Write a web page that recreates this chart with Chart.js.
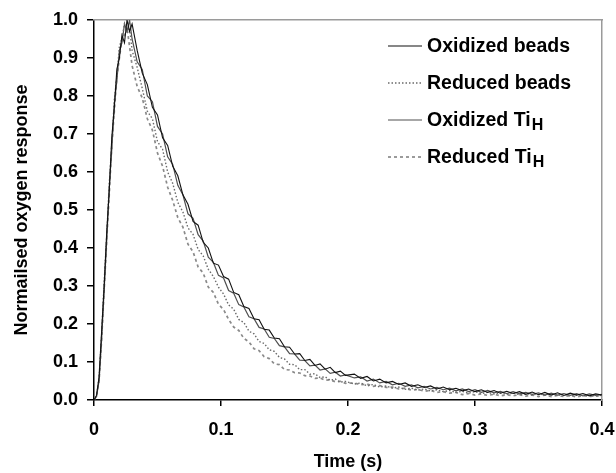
<!DOCTYPE html>
<html>
<head>
<meta charset="utf-8">
<script src="https://cdn.jsdelivr.net/npm/chart.js@4.4.1/dist/chart.umd.min.js"></script>
<style>
  html, body { margin: 0; padding: 0; background: #fff; }
  #wrap { width: 616px; height: 473px; }
</style>
</head>
<body>
<div id="wrap"><canvas id="oxygenChart" width="616" height="473"></canvas></div>
<script>
// time axis (s), shared by all four traces
const time = [
  0, 0.002, 0.004, 0.006, 0.008, 0.010, 0.012, 0.014, 0.016, 0.018, 0.020, 0.022, 0.024, 0.026, 0.028, 0.030,
  0.034, 0.038, 0.042, 0.046, 0.050, 0.054, 0.058, 0.062, 0.066, 0.070, 0.074, 0.078, 0.082, 0.086,
  0.090, 0.094, 0.098, 0.102, 0.106, 0.110, 0.114, 0.118, 0.122, 0.126, 0.130, 0.134, 0.138, 0.142,
  0.146, 0.150, 0.154, 0.158, 0.162, 0.166, 0.170, 0.174, 0.178, 0.182, 0.186, 0.190, 0.194, 0.198,
  0.205, 0.210, 0.215, 0.220, 0.225, 0.230, 0.235, 0.240, 0.245, 0.250, 0.255, 0.260, 0.265, 0.270,
  0.275, 0.280, 0.285, 0.290, 0.295, 0.300, 0.305, 0.310, 0.315, 0.320, 0.325, 0.330, 0.335, 0.340,
  0.345, 0.350, 0.355, 0.360, 0.365, 0.370, 0.375, 0.380, 0.385, 0.390, 0.395, 0.400
];

const oxidizedBeads = [
  0.00, 0.012, 0.06, 0.18, 0.30, 0.44, 0.55, 0.69, 0.77, 0.87, 0.90, 0.96, 0.94, 1.00, 0.97, 0.99,
  0.92, 0.86, 0.83, 0.77, 0.75, 0.69, 0.67, 0.615, 0.59, 0.54, 0.515, 0.47, 0.46, 0.415,
  0.40, 0.36, 0.355, 0.325, 0.318, 0.283, 0.277, 0.246, 0.241, 0.214, 0.211, 0.186, 0.184, 0.163,
  0.161, 0.140, 0.139, 0.121, 0.122, 0.104, 0.107, 0.091, 0.095, 0.081, 0.086, 0.072, 0.076, 0.065,
  0.068, 0.057, 0.062, 0.050, 0.055, 0.045, 0.049, 0.041, 0.045, 0.036, 0.040, 0.033, 0.037, 0.029,
  0.034, 0.027, 0.031, 0.024, 0.029, 0.022, 0.027, 0.020, 0.025, 0.018, 0.023, 0.017, 0.022, 0.015,
  0.021, 0.014, 0.020, 0.013, 0.019, 0.012, 0.018, 0.013, 0.017, 0.011, 0.016, 0.013
];

const reducedBeads = [
  0.00, 0.01, 0.06, 0.17, 0.31, 0.43, 0.57, 0.67, 0.79, 0.85, 0.93, 0.95, 0.99, 0.97, 0.98, 0.92,
  0.875, 0.82, 0.76, 0.74, 0.68, 0.66, 0.60, 0.57, 0.52, 0.495, 0.453, 0.436, 0.396, 0.379,
  0.344, 0.325, 0.297, 0.279, 0.250, 0.239, 0.212, 0.204, 0.181, 0.174, 0.154, 0.149, 0.132, 0.128,
  0.112, 0.108, 0.094, 0.093, 0.080, 0.080, 0.068, 0.069, 0.059, 0.061, 0.052, 0.055, 0.047, 0.049,
  0.042, 0.045, 0.037, 0.041, 0.034, 0.037, 0.031, 0.034, 0.028, 0.031, 0.026, 0.029, 0.024, 0.027,
  0.022, 0.025, 0.020, 0.023, 0.018, 0.022, 0.017, 0.020, 0.016, 0.019, 0.015, 0.018, 0.014, 0.017,
  0.013, 0.016, 0.013, 0.015, 0.012, 0.015, 0.011, 0.014, 0.012, 0.014, 0.010, 0.013
];

const oxidizedTiH = [
  0.00, 0.01, 0.05, 0.16, 0.29, 0.42, 0.56, 0.66, 0.78, 0.84, 0.92, 0.94, 0.99, 0.97, 1.00, 0.95,
  0.89, 0.87, 0.80, 0.785, 0.72, 0.70, 0.64, 0.62, 0.565, 0.54, 0.49, 0.478, 0.435, 0.418,
  0.376, 0.362, 0.328, 0.321, 0.288, 0.281, 0.251, 0.245, 0.219, 0.214, 0.191, 0.187, 0.165, 0.162,
  0.143, 0.140, 0.122, 0.121, 0.105, 0.104, 0.090, 0.092, 0.079, 0.082, 0.070, 0.073, 0.063, 0.066,
  0.058, 0.061, 0.050, 0.055, 0.045, 0.049, 0.040, 0.044, 0.036, 0.040, 0.032, 0.036, 0.029, 0.033,
  0.027, 0.031, 0.024, 0.029, 0.022, 0.027, 0.020, 0.025, 0.019, 0.023, 0.017, 0.022, 0.016, 0.020,
  0.015, 0.019, 0.013, 0.018, 0.013, 0.017, 0.012, 0.017, 0.011, 0.016, 0.012, 0.015
];

const reducedTiH = [
  0.00, 0.012, 0.05, 0.16, 0.29, 0.42, 0.54, 0.67, 0.76, 0.85, 0.90, 0.95, 0.96, 0.98, 0.93, 0.88,
  0.825, 0.795, 0.74, 0.71, 0.65, 0.615, 0.56, 0.525, 0.48, 0.455, 0.41, 0.39, 0.35, 0.334,
  0.297, 0.283, 0.252, 0.238, 0.212, 0.192, 0.183, 0.162, 0.153, 0.135, 0.130, 0.114, 0.109, 0.095,
  0.093, 0.080, 0.079, 0.072, 0.071, 0.064, 0.063, 0.057, 0.058, 0.052, 0.053, 0.048, 0.049, 0.044,
  0.045, 0.040, 0.042, 0.036, 0.038, 0.033, 0.034, 0.029, 0.031, 0.026, 0.028, 0.023, 0.025, 0.020,
  0.022, 0.018, 0.020, 0.014, 0.017, 0.013, 0.016, 0.012, 0.015, 0.011, 0.014, 0.011, 0.014, 0.010,
  0.013, 0.009, 0.013, 0.009, 0.012, 0.009, 0.012, 0.008, 0.012, 0.009, 0.011, 0.010
];

// legend text: base + subscript part
const legendBase = ["Oxidized beads", "Reduced beads", "Oxidized Ti", "Reduced Ti"];
const legendSub = ["", "", "H", "H"];

const xTickLabels = ["0", "0.1", "0.2", "0.3", "0.4"];
const yTickLabels = ["0.0", "0.1", "0.2", "0.3", "0.4", "0.5", "0.6", "0.7", "0.8", "0.9", "1.0"];

const FONT = "'Liberation Sans', Arial, Helvetica, sans-serif";

function toPoints(values) {
  return time.map((t, i) => ({ x: t, y: values[i] }));
}

const seriesValues = [oxidizedBeads, reducedBeads, oxidizedTiH, reducedTiH];
const seriesStyle = [
  { color: "#111111", dash: [], width: 1.1 },
  { color: "#6a6a6a", dash: [1.5, 2], width: 1.4 },
  { color: "#505050", dash: [], width: 1.2 },
  { color: "#8a8a8a", dash: [3, 3], width: 1.7 }
];

const datasets = seriesValues.map((vals, i) => ({
  label: legendBase[i] + legendSub[i],
  data: toPoints(vals),
  borderColor: seriesStyle[i].color,
  borderDash: seriesStyle[i].dash,
  borderWidth: seriesStyle[i].width,
  pointRadius: 0,
  tension: 0,
  fill: false
}));

// legend drawn on the canvas so the "H" can be a subscript
const subscriptLegend = {
  id: "subscriptLegend",
  afterDraw(chart) {
    const ctx = chart.ctx;
    const rowY = [46, 83, 120, 157];
    ctx.save();
    chart.data.datasets.forEach((ds, i) => {
      const y = rowY[i];
      ctx.beginPath();
      ctx.strokeStyle = ds.borderColor;
      ctx.lineWidth = ds.borderWidth;
      ctx.setLineDash(ds.borderDash || []);
      ctx.moveTo(388, y);
      ctx.lineTo(422, y);
      ctx.stroke();
      ctx.setLineDash([]);

      ctx.fillStyle = "#000";
      ctx.textBaseline = "middle";
      ctx.textAlign = "left";
      ctx.font = "bold 19.5px " + FONT;
      ctx.fillText(legendBase[i], 427, y + 1);
      if (legendSub[i]) {
        const w = ctx.measureText(legendBase[i]).width;
        ctx.font = "bold 16px " + FONT;
        ctx.fillText(legendSub[i], 427 + w + 1, y + 6);
      }
    });
    ctx.restore();
  }
};

new Chart("oxygenChart", {
  type: "line",
  data: { datasets },
  options: {
    responsive: false,
    animation: false,
    layout: { padding: { top: 20, right: 14, left: 0, bottom: 0 } },
    plugins: {
      legend: { display: false },
      tooltip: { enabled: false }
    },
    scales: {
      x: {
        type: "linear",
        position: "bottom",
        min: 0,
        max: 0.4,
        ticks: {
          stepSize: 0.1,
          color: "#000",
          font: { family: FONT, size: 18, weight: "bold" },
          padding: 13,
          maxRotation: 0,
          callback: (v, i) => xTickLabels[i]
        },
        grid: { drawOnChartArea: false, drawTicks: true, tickLength: 6, color: "#000", lineWidth: 1.5 },
        border: { color: "#000", width: 1.5 },
        title: {
          display: true,
          text: "Time (s)",
          color: "#000",
          font: { family: FONT, size: 18, weight: "bold" },
          padding: { top: 0, bottom: 0 }
        },
        afterFit: (scale) => {
          scale.height = 73;
          scale.paddingLeft = 0;
          scale.paddingRight = 0;
        }
      },
      y: {
        min: 0,
        max: 1,
        ticks: {
          stepSize: 0.1,
          color: "#000",
          font: { family: FONT, size: 18, weight: "bold" },
          padding: 9,
          callback: (v, i) => yTickLabels[i]
        },
        grid: { drawOnChartArea: false, drawTicks: true, tickLength: 7, color: "#000", lineWidth: 1.5 },
        border: { color: "#000", width: 1.5 },
        title: {
          display: true,
          text: "Normailsed oxygen response",
          color: "#000",
          font: { family: FONT, size: 18, weight: "bold" },
          padding: { top: 11, bottom: 0 }
        },
        afterFit: (scale) => {
          scale.width = 94;
          scale.paddingTop = 0;
          scale.paddingBottom = 0;
        }
      },
      xTop: {
        type: "linear",
        position: "top",
        min: 0,
        max: 0.4,
        ticks: { display: false },
        grid: { display: false, drawTicks: false },
        border: { color: "#9a9a9a", width: 1.5 },
        afterFit: (scale) => {
          scale.height = 0;
          scale.paddingLeft = 0;
          scale.paddingRight = 0;
        }
      },
      yRight: {
        type: "linear",
        position: "right",
        min: 0,
        max: 1,
        ticks: { display: false },
        grid: { display: false, drawTicks: false },
        border: { color: "#9a9a9a", width: 1.5 },
        afterFit: (scale) => {
          scale.width = 0;
          scale.paddingTop = 0;
          scale.paddingBottom = 0;
        }
      }
    }
  },
  plugins: [subscriptLegend]
});
</script>
</body>
</html>
